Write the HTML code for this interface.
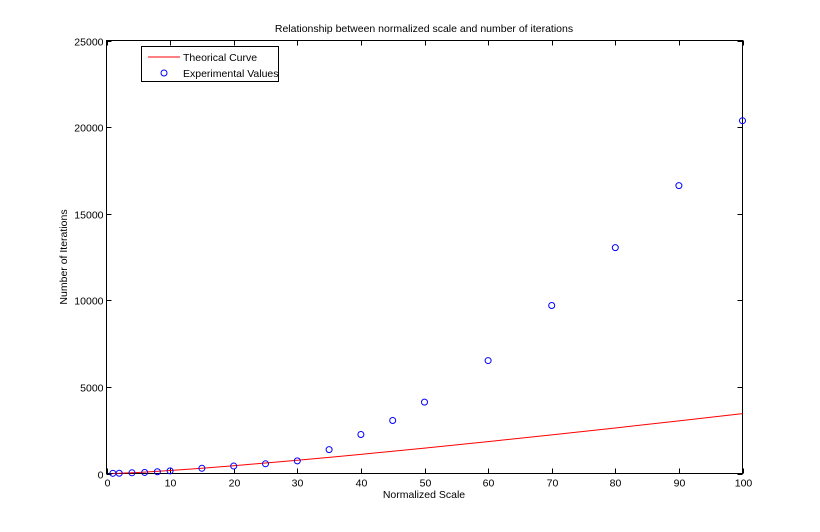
<!DOCTYPE html>
<html><head><meta charset="utf-8"><style>
body{margin:0;background:#fff}
svg{display:block;font-family:"Liberation Sans",Arial,sans-serif}
</style></head><body>
<svg id="chart" width="820" height="532">
<rect width="820" height="532" fill="#fff"/>
<text x="424" y="32" font-size="10.5" text-anchor="middle">Relationship between normalized scale and number of iterations</text>
<text x="424" y="498" font-size="10.5" text-anchor="middle">Normalized Scale</text>
<text transform="translate(67,257) rotate(-90)" font-size="10.5" text-anchor="middle">Number of Iterations</text>
<g id="axes"></g>
<g id="marks"></g>
<g>
<rect x="141.5" y="46.5" width="137" height="35" fill="#fff" stroke="#000"/>
<line x1="148" y1="57" x2="180" y2="57" stroke="#f00"/>
<text x="183" y="61" font-size="10.5">Theorical Curve</text>
<circle cx="164" cy="73" r="3" fill="none" stroke="#00f"/>
<text x="183" y="77" font-size="10.5">Experimental Values</text>
</g>
</svg>
<script>
const xTicks=[0,10,20,30,40,50,60,70,80,90,100];
const yTicks=[0,5000,10000,15000,20000,25000];
const curveX=[1,2,5,10,15,20,25,30,35,40,45,50,60,70,80,90,100];
const curveY=[8,12,60,173,305,450,604,765,933,1107,1285,1467,1842,2230,2629,3037,3454];
const expX=[1,2,4,6,8,10,15,20,25,30,35,40,45,50,60,70,80,90,100];
const expY=[10,15,40,60,100,150,300,430,560,730,1380,2250,3060,4120,6520,9700,13040,16620,20370];
const X0=106.5,X1=742.5,Y0=473.5,Y1=40.5;
const sx=v=>X0+(X1-X0)*v/100;
const sy=v=>Y0-(Y0-Y1)*v/25000;
const NS="http://www.w3.org/2000/svg";
const axes=document.getElementById('axes'),marks=document.getElementById('marks');
function mk(tag,at,parent){const e=document.createElementNS(NS,tag);for(const k in at)e.setAttribute(k,at[k]);parent.appendChild(e);return e;}
const box=mk('rect',{x:X0,y:Y1,width:X1-X0,height:Y0-Y1,fill:'none',stroke:'#000'},axes);


xTicks.forEach(t=>{const x=Math.round(sx(t))+0.5;
mk('line',{x1:x,y1:Y0,x2:x,y2:Y0-5,stroke:'#000'},axes);
mk('line',{x1:x,y1:Y1,x2:x,y2:Y1+5,stroke:'#000'},axes);
const l=mk('text',{x:x,y:Y0+13,'font-size':10.5,'text-anchor':'middle'},axes);l.textContent=t;

});
yTicks.forEach(t=>{const y=Math.round(sy(t))+0.5;
mk('line',{x1:X0,y1:y,x2:X0+5,y2:y,stroke:'#000'},axes);
mk('line',{x1:X1,y1:y,x2:X1-5,y2:y,stroke:'#000'},axes);
const l=mk('text',{x:X0-3,y:y+4,'font-size':10.5,'text-anchor':'end'},axes);l.textContent=t;

});
const pl=mk('polyline',{points:curveX.map((x,i)=>sx(x)+','+sy(curveY[i])).join(' '),fill:'none',stroke:'#f00'},marks);


expX.forEach((x,i)=>{const c=mk('circle',{cx:sx(x),cy:sy(expY[i]),r:3,fill:'none',stroke:'#00f'},marks);

});
</script>
</body></html>
